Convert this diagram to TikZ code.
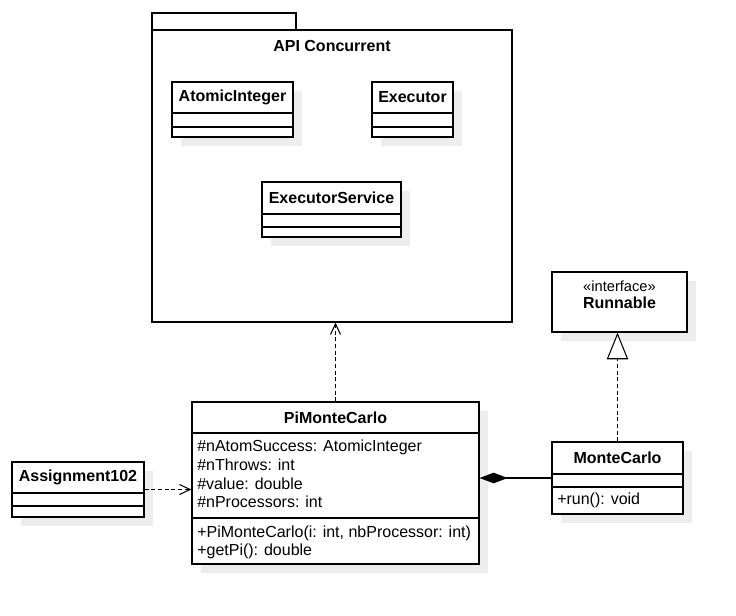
\documentclass[tikz,border=0pt]{standalone}
\usepackage{fontspec}
\setmainfont{Liberation Sans}
\usepackage{tikz}
\usetikzlibrary{arrows.meta,fit,shadows}

\tikzset{
  classbox/.style={draw, fill=white, line width=0.9pt, inner sep=0pt,
    drop shadow={shadow xshift=6.5pt, shadow yshift=-6.5pt, fill=black!7, opacity=1}},
  classname/.style={font=\fontsize{12pt}{14pt}\selectfont\bfseries, inner sep=0pt},
  member/.style={font=\fontsize{12pt}{14pt}\selectfont, anchor=west, inner sep=0pt},
  depend/.style={line width=0.8pt, dash pattern=on 3pt off 2pt, -{Straight Barb[length=8pt,width=7.5pt]}},
}

\begin{document}
\begin{tikzpicture}[x=0.75pt, y=-0.75pt]
  \useasboundingbox (0,0) rectangle (736,615);
  \fill[white] (0,0) rectangle (736,615);
  % package
  \draw[line width=0.9pt] (152,13) rectangle (296,30);
  \node[draw, line width=0.9pt, inner sep=0pt, fit={(152,30) (512,322)}] (pkg) {};
  \node[classname] at (332,46) {API Concurrent};
  % AtomicInteger
  \node[classbox, fit={(172,82) (293,137)}] (atomic) {};
  \draw[line width=0.9pt] (172,113) -- (293,113) (172,127) -- (293,127);
  \node[classname] at (232.5,97.5) {AtomicInteger};
  % Executor
  \node[classbox, fit={(372,82) (453,137)}] (exec) {};
  \draw[line width=0.9pt] (372,113) -- (453,113) (372,127) -- (453,127);
  \node[classname] at (412.5,97.5) {Executor};
  % ExecutorService
  \node[classbox, fit={(262,182) (401,237)}] (execsvc) {};
  \draw[line width=0.9pt] (262,214) -- (401,214) (262,227) -- (401,227);
  \node[classname] at (331.5,197.5) {ExecutorService};
  % Runnable
  \node[classbox, fit={(552,272) (687,332)}] (run) {};
  \node[font=\fontsize{11pt}{13pt}\selectfont, inner sep=0pt] at (619.5,286) {«interface»};
  \node[classname] at (619.5,303) {Runnable};
  % PiMonteCarlo
  \node[classbox, fit={(192,402) (479,564)}] (pmc) {};
  \draw[line width=0.9pt] (192,433) -- (479,433) (192,518) -- (479,518);
  \node[classname] at (335.5,417.5) {PiMonteCarlo};
  \node[member] at (197,447) {\#nAtomSuccess: AtomicInteger};
  \node[member] at (197,465) {\#nThrows: int};
  \node[member] at (197,484) {\#value: double};
  \node[member] at (197,502) {\#nProcessors: int};
  \node[member] at (197,533) {+PiMonteCarlo(i: int, nbProcessor: int)};
  \node[member] at (197,551) {+getPi(): double};
  % Assignment102
  \node[classbox, fit={(12,462) (144,517)}] (asg) {};
  \draw[line width=0.9pt] (12,493) -- (144,493) (12,506) -- (144,506);
  \node[classname] at (78,477.5) {Assignment102};
  % MonteCarlo
  \node[classbox, fit={(552,442) (683,514)}] (mc) {};
  \draw[line width=0.9pt] (552,474) -- (683,474) (552,487) -- (683,487);
  \node[classname] at (617.5,458) {MonteCarlo};
  \node[member] at (557,500) {+run(): void};
  % relations
  \draw[depend] (pmc.north) -- (pmc.north |- pkg.south);
  \draw[depend] (asg.east) -- (asg.east -| pmc.west);
  \draw[line width=0.8pt, dash pattern=on 3pt off 2pt, -{Triangle[open, length=20pt, width=16pt, fill=white]}]
    (mc.north) -- (mc.north |- run.south);
  \draw[line width=0.8pt, {Diamond[length=21pt, width=8pt]}-] (mc.west -| pmc.east) -- (mc.west);
\end{tikzpicture}
\end{document}
